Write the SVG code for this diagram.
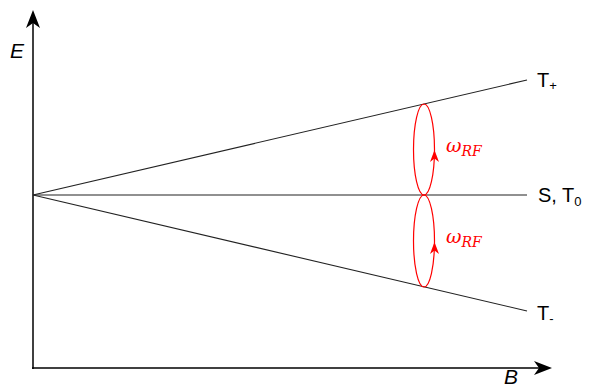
<svg xmlns="http://www.w3.org/2000/svg" width="590" height="389" viewBox="0 0 590 389">
<style>
.ax{stroke:#000;stroke-width:1.5;fill:none}
.ln{stroke:#222;stroke-width:1.1;fill:none}
.rf{stroke:#f00;stroke-width:1.2;fill:none}
.lbl{font-family:"Liberation Sans",Arial,sans-serif;font-size:20px;fill:#000}
.it{font-family:"Liberation Sans",Arial,sans-serif;font-style:italic;font-size:21px;fill:#000}
.om{font-family:"DejaVu Serif","Liberation Serif",serif;font-style:italic;fill:#f00}
</style>
<defs>
<path id="ah" d="M0,0 L-18,-7 L-13,0 L-18,7 Z" fill="#000"/>
<path id="rah" d="M0,0 L-12,-4.5 L-8.5,0 L-12,4.5 Z" fill="#f00"/>
</defs>
<g id="connectors">
<line class="ax" x1="33" y1="369" x2="33" y2="16"/>
<line class="ax" x1="32" y1="368" x2="546" y2="368"/>
<use href="#ah" transform="translate(33,10) rotate(-90)"/>
<use href="#ah" transform="translate(552,368)"/>
<line class="ln" x1="33" y1="195" x2="527" y2="80"/>
<line class="ln" x1="33" y1="195" x2="527" y2="195"/>
<line class="ln" x1="33" y1="195" x2="527" y2="311"/>
</g>
<g id="loop-upper">
<ellipse class="rf" cx="424" cy="149.5" rx="10.5" ry="45.5"/>
<use href="#rah" transform="translate(434.5,150) rotate(-90)"/>
<text class="om" x="446" y="152" font-size="19">ω<tspan font-size="14" dy="4">RF</tspan></text>
</g>
<g id="loop-lower">
<ellipse class="rf" cx="424" cy="241" rx="10.5" ry="46"/>
<use href="#rah" transform="translate(434.5,242) rotate(-90)"/>
<text class="om" x="446" y="243" font-size="19">ω<tspan font-size="14" dy="4">RF</tspan></text>
</g>
<g id="label-E"><text class="it" x="10" y="58">E</text></g>
<g id="label-B"><text class="it" x="504" y="384" font-size="17">B</text></g>
<g id="label-Tplus"><text class="lbl" x="537" y="87">T<tspan font-size="13" dy="3">+</tspan></text></g>
<g id="label-S"><text class="lbl" x="538" y="202">S, T<tspan font-size="13" dy="4">0</tspan></text></g>
<g id="label-Tminus"><text class="lbl" x="537" y="320">T<tspan font-size="13" dy="3">-</tspan></text></g>
</svg>
